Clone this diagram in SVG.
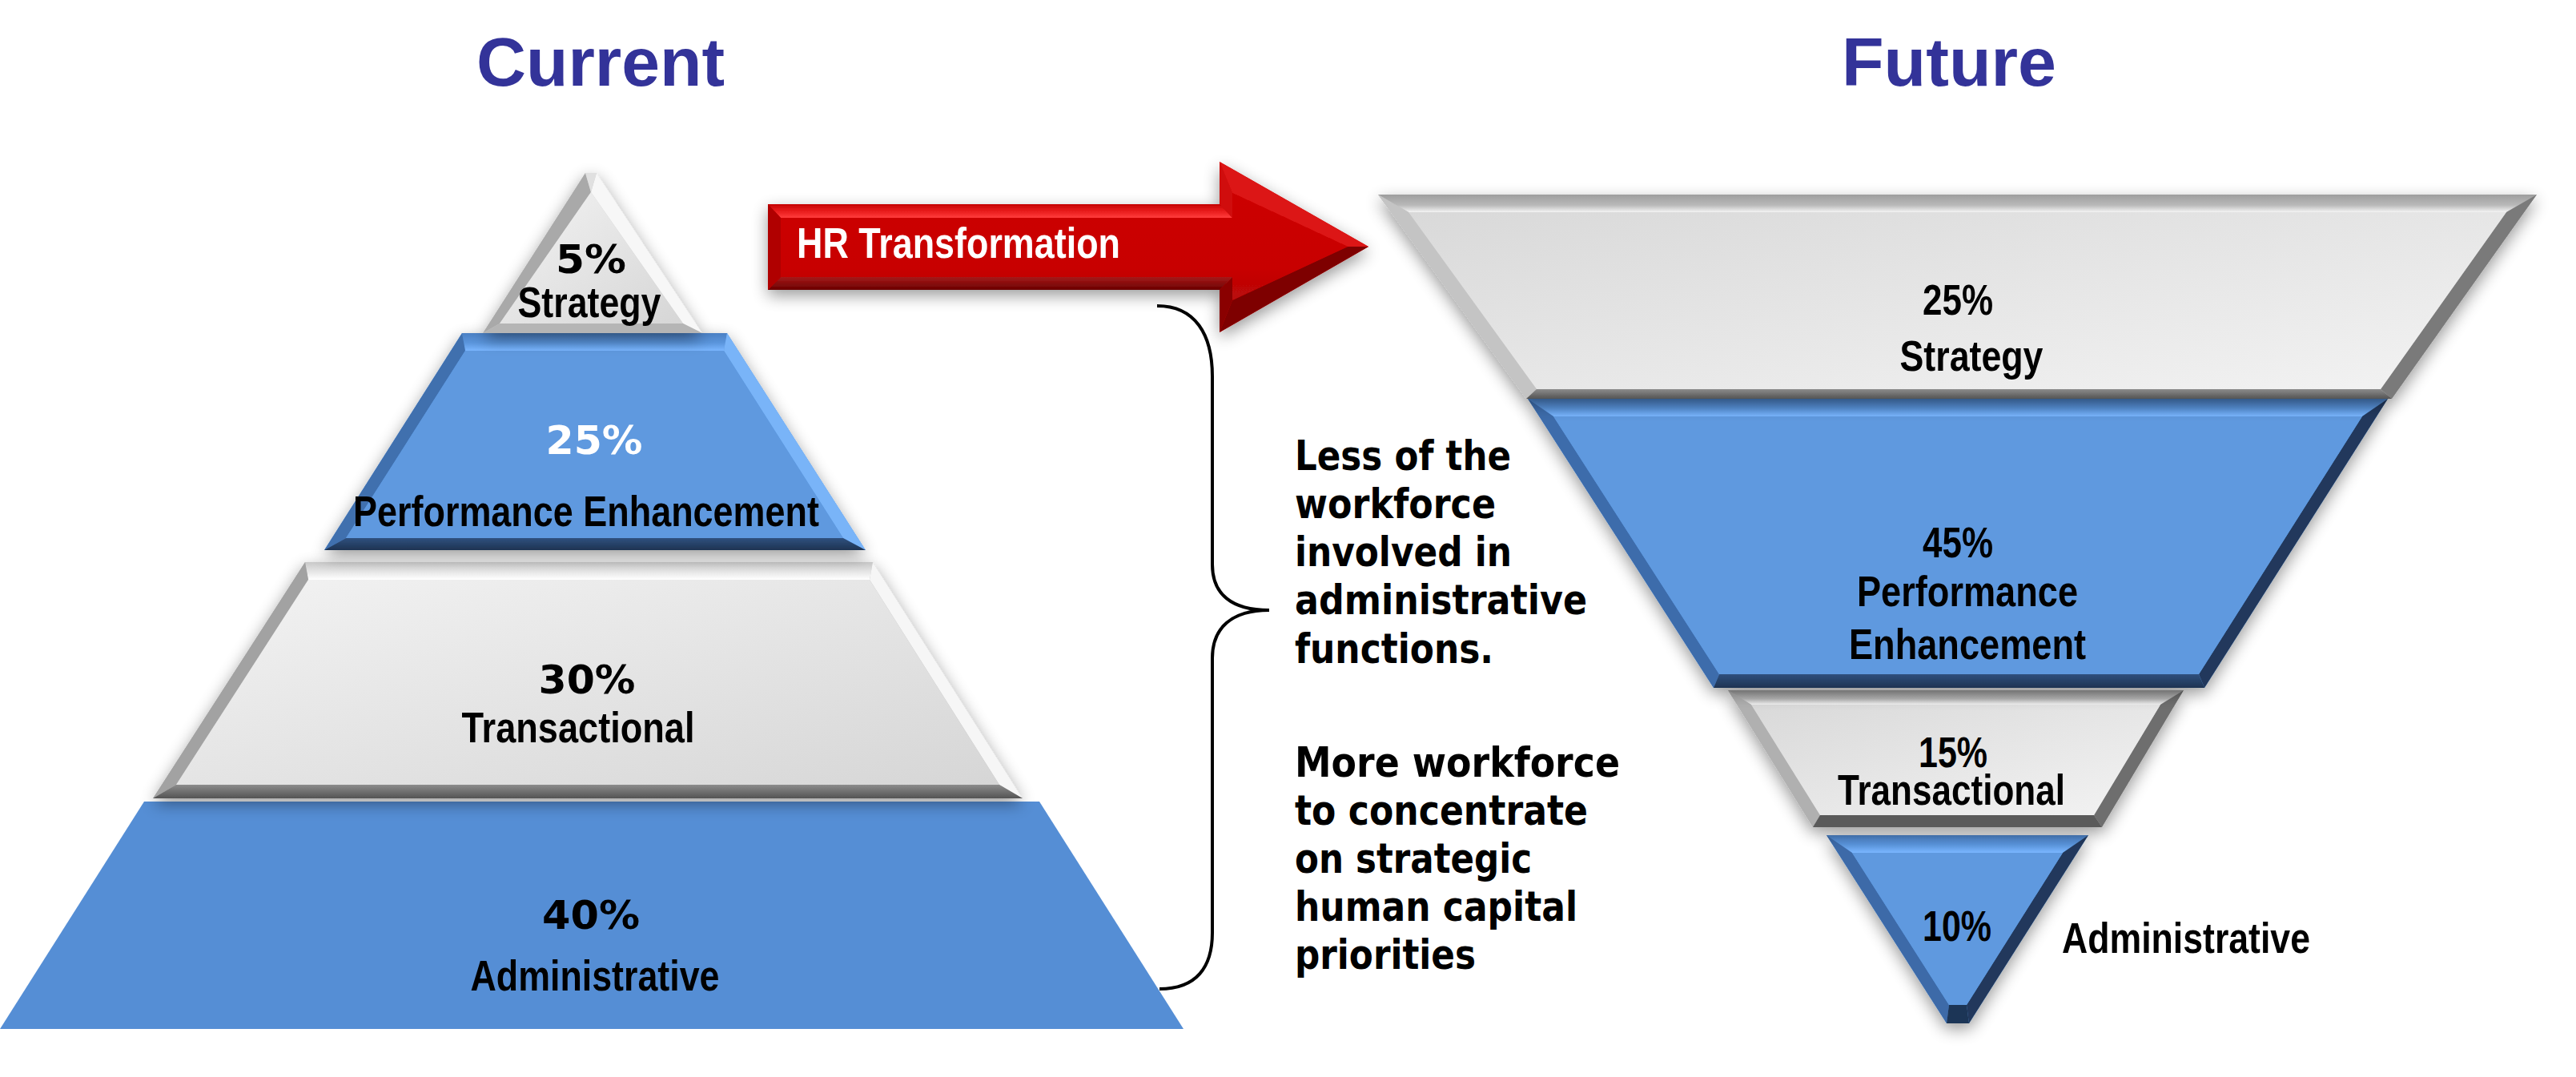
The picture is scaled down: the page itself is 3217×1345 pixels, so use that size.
<svg xmlns="http://www.w3.org/2000/svg" width="3217" height="1345" viewBox="0 0 3217 1345">
<style>
.ttl{font-family:"Liberation Sans",Arial,sans-serif;font-weight:bold;font-size:85px;fill:#333399;text-anchor:middle}
.nar{font-family:"Liberation Sans Narrow","Liberation Sans",Arial,sans-serif;font-weight:bold;font-size:53px;fill:#000;text-anchor:middle}
.tah{font-family:"DejaVu Sans","Liberation Sans",sans-serif;font-weight:bold;font-size:49px;fill:#000;text-anchor:middle}
.par{font-family:"DejaVu Sans","Liberation Sans",sans-serif;font-weight:bold;font-size:51px;fill:#000}
.blueIn{fill:#5E99DF}
.brace{fill:none;stroke:#000;stroke-width:4}
</style>
<defs>
<filter id="sh" x="-10%" y="-10%" width="120%" height="130%">
<feGaussianBlur in="SourceAlpha" stdDeviation="10"/>
<feOffset dx="0" dy="7" result="b"/>
<feComponentTransfer><feFuncA type="linear" slope="0.4"/></feComponentTransfer>
<feMerge><feMergeNode/><feMergeNode in="SourceGraphic"/></feMerge>
</filter>
<linearGradient id="grayIn" x1="0" y1="0" x2="1" y2="1"><stop offset="0" stop-color="#d9d9d9"/><stop offset="1" stop-color="#f3f3f3"/></linearGradient>
<linearGradient id="grayIn2" x1="0" y1="0" x2="1" y2="1"><stop offset="0" stop-color="#f3f3f3"/><stop offset="1" stop-color="#d6d6d6"/></linearGradient>
<linearGradient id="gTopLight" x1="0" y1="0" x2="0" y2="1"><stop offset="0" stop-color="#c8c8c8"/><stop offset="0.55" stop-color="#e6e6e6"/><stop offset="1" stop-color="#ffffff"/></linearGradient>
<linearGradient id="gTopDark" x1="0" y1="0" x2="0" y2="1"><stop offset="0" stop-color="#9d9d9d"/><stop offset="0.6" stop-color="#b9b9b9"/><stop offset="1" stop-color="#f4f4f4"/></linearGradient>
<linearGradient id="gBot" x1="0" y1="0" x2="0" y2="1"><stop offset="0" stop-color="#8c8c8c"/><stop offset="1" stop-color="#545454"/></linearGradient>
<linearGradient id="bTop" x1="0" y1="0" x2="0" y2="1"><stop offset="0" stop-color="#4b80c4"/><stop offset="0.55" stop-color="#5a95dc"/><stop offset="1" stop-color="#7ab6ff"/></linearGradient>
<linearGradient id="bBot" x1="0" y1="0" x2="0" y2="1"><stop offset="0" stop-color="#2f507e"/><stop offset="1" stop-color="#1e3352"/></linearGradient>
<linearGradient id="rBody" x1="0" y1="0" x2="0" y2="1"><stop offset="0" stop-color="#cc0000"/><stop offset="0.7" stop-color="#c80404"/><stop offset="1" stop-color="#b80808"/></linearGradient>
<linearGradient id="rTop" x1="0" y1="0" x2="0" y2="1"><stop offset="0" stop-color="#c40000"/><stop offset="0.5" stop-color="#e81c1c"/><stop offset="1" stop-color="#ff3d3d"/></linearGradient>
<linearGradient id="rBot" x1="0" y1="0" x2="0" y2="1"><stop offset="0" stop-color="#a51a1a"/><stop offset="1" stop-color="#6a0000"/></linearGradient>
</defs>
<rect width="3217" height="1345" fill="#fff"/>

<text class="ttl" x="750" y="107" textLength="310" lengthAdjust="spacingAndGlyphs">Current</text>
<text class="ttl" x="2434" y="107" textLength="268" lengthAdjust="spacingAndGlyphs">Future</text>

<!-- Left pyramid -->
<g id="cur-admin">
<polygon points="180,1001 1298,1001 1478,1285 0,1285" fill="#558ED5"/>
<text class="tah" x="738" y="1160" textLength="122" lengthAdjust="spacingAndGlyphs">40%</text>
<text class="nar" x="743" y="1237" font-size="54" textLength="311" lengthAdjust="spacingAndGlyphs">Administrative</text>
</g>
<g id="cur-trans">
<g filter="url(#sh)">
<polygon points="381,702 1090,702 1277,997 191,997" fill="#bdbdbd"/>
<polygon points="381,702 1090,702 1086,724 385,724" fill="url(#gTopLight)"/>
<polygon points="381,702 385,724 220,980 191,997" fill="#a2a2a2"/>
<polygon points="1090,702 1277,997 1248,980 1086,724" fill="#f6f6f6"/>
<polygon points="191,997 1277,997 1248,980 220,980" fill="url(#gBot)"/>
<polygon points="385,724 1086,724 1248,980 220,980" fill="url(#grayIn2)"/>
</g>
<text class="tah" x="733" y="866" textLength="121" lengthAdjust="spacingAndGlyphs">30%</text>
<text class="nar" x="722" y="927" font-size="54" textLength="291" lengthAdjust="spacingAndGlyphs">Transactional</text>
</g>
<g id="cur-perf">
<g filter="url(#sh)">
<polygon points="577,416 908,416 1081,687 405,687" fill="#5E99DF"/>
<polygon points="577,416 908,416 904,438 581,438" fill="url(#bTop)"/>
<polygon points="577,416 581,438 432,672 405,687" fill="#3f6fae"/>
<polygon points="908,416 1081,687 1053,672 904,438" fill="#79b4f8"/>
<polygon points="405,687 1081,687 1053,672 432,672" fill="url(#bBot)"/>
<polygon class="blueIn" points="581,438 904,438 1053,672 432,672"/>
</g>
<text class="tah" x="742" y="567" style="fill:#fff" textLength="121" lengthAdjust="spacingAndGlyphs">25%</text>
<text class="nar" x="732" y="657" font-size="52" textLength="582" lengthAdjust="spacingAndGlyphs">Performance Enhancement</text>
</g>
<g id="cur-strat">
<g filter="url(#sh)">
<polygon points="731,216 745,216 877,416 603,416" fill="#cfcfcf"/>
<polygon points="731,216 603,416 624,404 738,240" fill="#a9a9a9"/>
<polygon points="745,216 877,416 853,404 738,240" fill="#f7f7f7"/>
<polygon points="731,216 745,216 738,240" fill="#e0e0e0"/>
<polygon points="603,416 877,416 853,404 624,404" fill="#b5b5b5"/>
<polygon points="738,240 853,404 624,404" fill="url(#grayIn2)"/>
</g>
<text class="tah" x="738" y="341" textLength="88" lengthAdjust="spacingAndGlyphs">5%</text>
<text class="nar" x="736" y="396" font-size="54" textLength="179" lengthAdjust="spacingAndGlyphs">Strategy</text>
</g>

<!-- Arrow -->
<g id="hr-arrow">
<g filter="url(#sh)">
<polygon points="959,255 1523,255 1523,202 1709,308 1523,415 1523,362 959,362" fill="#cc0000"/>
<polygon points="959,255 1523,255 1539,272 975,272" fill="url(#rTop)"/>
<polygon points="1523,255 1523,202 1539,241 1539,272" fill="#d00a0a"/>
<polygon points="1523,202 1709,308 1683,308 1539,241" fill="#dc1414"/>
<polygon points="1709,308 1523,415 1539,375 1683,308" fill="#7e0000"/>
<polygon points="1523,415 1523,362 1539,346 1539,375" fill="#8a0000"/>
<polygon points="1523,362 959,362 975,346 1539,346" fill="url(#rBot)"/>
<polygon points="959,255 975,272 975,346 959,362" fill="#b00000"/>
<polygon points="975,272 1539,272 1539,241 1683,308 1539,375 1539,346 975,346" fill="url(#rBody)"/>
</g>
<text x="995" y="322" style="font-family:'Liberation Sans Narrow','Liberation Sans',Arial,sans-serif;font-weight:bold;font-size:54px;fill:#fff" textLength="404" lengthAdjust="spacingAndGlyphs">HR Transformation</text>
</g>

<!-- Brace connector -->
<g id="connectors">
<path class="brace" d="M1445,382 C1493,382 1514,418 1514,470 L1514,705 C1514,742 1538,762 1585,762 C1538,762 1514,784 1514,822 L1514,1165 C1514,1208 1494,1235 1448,1235"/>
</g>

<!-- Right paragraph -->
<g id="notes">
<text class="par" x="1617" y="587" textLength="270" lengthAdjust="spacingAndGlyphs">Less of the</text>
<text class="par" x="1617" y="647" textLength="251" lengthAdjust="spacingAndGlyphs">workforce</text>
<text class="par" x="1617" y="707" textLength="271" lengthAdjust="spacingAndGlyphs">involved in</text>
<text class="par" x="1617" y="767" textLength="365" lengthAdjust="spacingAndGlyphs">administrative</text>
<text class="par" x="1617" y="828" textLength="248" lengthAdjust="spacingAndGlyphs">functions.</text>
<text class="par" x="1617" y="970" textLength="406" lengthAdjust="spacingAndGlyphs">More workforce</text>
<text class="par" x="1617" y="1030" textLength="366" lengthAdjust="spacingAndGlyphs">to concentrate</text>
<text class="par" x="1617" y="1090" textLength="296" lengthAdjust="spacingAndGlyphs">on strategic</text>
<text class="par" x="1617" y="1150" textLength="353" lengthAdjust="spacingAndGlyphs">human capital</text>
<text class="par" x="1617" y="1210" textLength="226" lengthAdjust="spacingAndGlyphs">priorities</text>
</g>

<!-- Right inverted pyramid -->
<g id="fut-admin">
<g filter="url(#sh)">
<polygon points="2281,1043 2608,1043 2459,1278 2431,1278" fill="#5E99DF"/>
<polygon points="2281,1043 2608,1043 2576,1065 2313,1065" fill="url(#bTop)"/>
<polygon points="2281,1043 2313,1065 2434,1255 2431,1278" fill="#3c6aa8"/>
<polygon points="2608,1043 2459,1278 2456,1255 2576,1065" fill="#22395b"/>
<polygon points="2431,1278 2459,1278 2456,1255 2434,1255" fill="#1f3556"/>
<polygon class="blueIn" points="2313,1065 2576,1065 2456,1255 2434,1255"/>
</g>
<text class="nar" x="2444" y="1175" textLength="86" lengthAdjust="spacingAndGlyphs">10%</text>
<text class="nar" x="2575" y="1190" style="text-anchor:start" textLength="310" lengthAdjust="spacingAndGlyphs">Administrative</text>
</g>
<g id="fut-trans">
<g filter="url(#sh)">
<polygon points="2158,862 2727,862 2625,1033 2264,1033" fill="#bdbdbd"/>
<polygon points="2158,862 2727,862 2698,880 2187,880" fill="url(#gTopDark)"/>
<polygon points="2158,862 2187,880 2273,1018 2264,1033" fill="#b0b0b0"/>
<polygon points="2727,862 2625,1033 2615,1018 2698,880" fill="#6e6e6e"/>
<polygon points="2264,1033 2625,1033 2615,1018 2273,1018" fill="#5a5a5a"/>
<polygon points="2187,880 2698,880 2615,1018 2273,1018" fill="url(#grayIn)"/>
</g>
<text class="nar" x="2439" y="958" textLength="86" lengthAdjust="spacingAndGlyphs">15%</text>
<text class="nar" x="2437" y="1005" textLength="284" lengthAdjust="spacingAndGlyphs">Transactional</text>
</g>
<g id="fut-perf">
<g filter="url(#sh)">
<polygon points="1908,498 2982,498 2753,859 2140,859" fill="#5E99DF"/>
<polygon points="1908,498 2982,498 2950,520 1940,520" fill="url(#bTop)"/>
<polygon points="1908,498 1940,520 2147,842 2140,859" fill="#3d6cab"/>
<polygon points="2982,498 2753,859 2746,842 2950,520" fill="#22395b"/>
<polygon points="2140,859 2753,859 2746,842 2147,842" fill="url(#bBot)"/>
<polygon class="blueIn" points="1940,520 2950,520 2746,842 2147,842"/>
</g>
<text class="nar" x="2445" y="696" textLength="88" lengthAdjust="spacingAndGlyphs">45%</text>
<text class="nar" x="2457" y="757" textLength="276" lengthAdjust="spacingAndGlyphs">Performance</text>
<text class="nar" x="2457" y="823" textLength="296" lengthAdjust="spacingAndGlyphs">Enhancement</text>
</g>
<g id="fut-strat">
<g filter="url(#sh)">
<polygon points="1721,243 3168,243 2987,498 1906,498" fill="#bdbdbd"/>
<polygon points="1721,243 3168,243 3130,265 1759,265" fill="url(#gTopDark)"/>
<polygon points="1721,243 1759,265 1919,486 1906,498" fill="#c4c4c4"/>
<polygon points="3168,243 2987,498 2973,486 3130,265" fill="#7a7a7a"/>
<polygon points="1906,498 2987,498 2973,486 1919,486" fill="url(#gBot)"/>
<polygon points="1759,265 3130,265 2973,486 1919,486" fill="url(#grayIn)"/>
</g>
<text class="nar" x="2445" y="393" textLength="88" lengthAdjust="spacingAndGlyphs">25%</text>
<text class="nar" x="2462" y="463" textLength="179" lengthAdjust="spacingAndGlyphs">Strategy</text>
</g>
</svg>
